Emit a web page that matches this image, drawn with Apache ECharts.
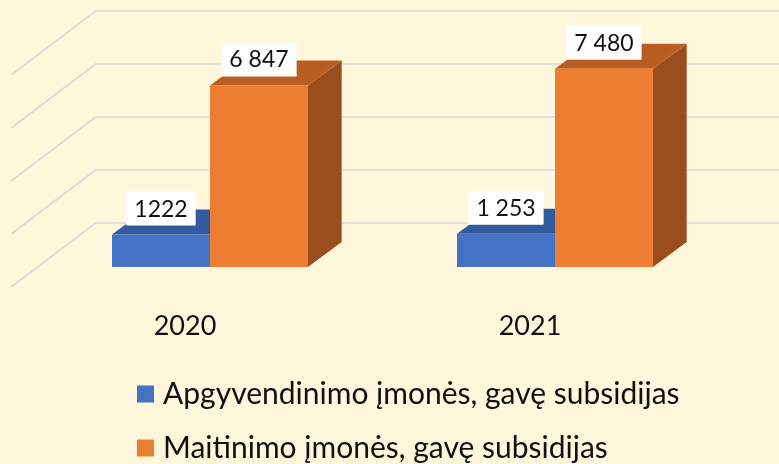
<!DOCTYPE html>
<html>
<head>
<meta charset="utf-8">
<script src="https://cdn.jsdelivr.net/npm/echarts@6/dist/echarts.min.js"></script>
<style>html,body{margin:0;padding:0;background:#FFF7DB;}#chart{width:779px;height:464px;}</style>
</head>
<body>
<div id="chart"></div>
<script>
const categories = ['2020', '2021'];
const seriesNames = ['Apgyvendinimo įmonės, gavę subsidijas', 'Maitinimo įmonės, gavę subsidijas'];
const accommodation = [1222, 1253];
const catering = [6847, 7480];
const accommodationLabels = ['1222', '1 253'];
const cateringLabels = ['6 847', '7 480'];
const yTicks = [0, 2000, 4000, 6000, 8000];

const FONT = 'Lato';
const K = 1.32;          // depth slope (dx per dy)
const BAR_DX = 33.7, BAR_DY = -25;

const chart = echarts.init(document.getElementById('chart'));

function wallItem(params, api) {
  const v = api.value(1);
  const p = api.coord([0, v]);
  const cs = params.coordSys;
  const x0 = cs.x;
  const y = p[1];
  return {
    type: 'polyline',
    shape: { points: [[x0 - 20 * K, y + 20], [x0 + 44 * K, y - 44], [800, y - 44]] },
    style: { stroke: '#D9D9D9', lineWidth: 1.6, fill: null }
  };
}

function makeBarRender(side, colors, labels) {
  return function (params, api) {
    const idx = api.value(0);
    const val = api.value(1);
    const base = api.coord([idx, 0]);
    const top = api.coord([idx, val]);
    const band = api.size([1, 0])[0];
    const w = band * 0.284;
    const xL = side === 0 ? base[0] - w : base[0];
    const yT = top[1], yB = base[1];
    return {
      type: 'group',
      children: [
        { type: 'polygon', shape: { points: [[xL + w, yT], [xL + w + BAR_DX, yT + BAR_DY], [xL + w + BAR_DX, yB + BAR_DY], [xL + w, yB]] }, style: { fill: colors[2] } },
        { type: 'polygon', shape: { points: [[xL, yT], [xL + w, yT], [xL + w + BAR_DX, yT + BAR_DY], [xL + BAR_DX, yT + BAR_DY]] }, style: { fill: colors[1] } },
        { type: 'rect', shape: { x: xL, y: yT, width: w, height: yB - yT }, style: { fill: colors[0] } },
        { type: 'text', z2: 100, style: { text: labels[idx], x: xL + w / 2, y: yT - 9, align: 'center', verticalAlign: 'bottom', font: '23px ' + FONT, fill: '#111', backgroundColor: '#FFFFFF', padding: [6, 8, 5, 8] } }
      ]
    };
  };
}

const legendCommon = {
  orient: 'vertical', left: 137, padding: 0,
  itemWidth: 17, itemHeight: 17,
  icon: 'rect',
  textStyle: { fontFamily: FONT, fontSize: 30, color: '#111', padding: [0, 0, 0, 4] }
};

const option = {
  backgroundColor: '#FFF7DB',
  animation: false,
  grid: { left: 37.5, right: 51.5, top: 55, bottom: 197, containLabel: false },
  xAxis: {
    type: 'category',
    data: categories,
    axisLine: { show: false },
    axisTick: { show: false },
    axisLabel: { fontFamily: FONT, fontSize: 27, color: '#111', margin: 46, padding: [0, 50, 0, 0] }
  },
  yAxis: {
    type: 'value', min: 0, max: 8000, interval: 2000,
    show: false
  },
  legend: [
    Object.assign({}, legendCommon, { top: 379, data: [seriesNames[0]] }),
    Object.assign({}, legendCommon, { top: 433, data: [seriesNames[1]] })
  ],
  series: [
    {
      type: 'custom', name: 'walls', silent: true, z: 1,
      data: yTicks.map(v => [0, v]),
      renderItem: wallItem
    },
    {
      type: 'custom', name: seriesNames[0], z: 2,
      itemStyle: { color: '#4472C4' },
      data: accommodation.map((v, i) => [i, v]),
      renderItem: makeBarRender(0, ['#4472C4', '#345A9E', '#2B4B85'], accommodationLabels)
    },
    {
      type: 'custom', name: seriesNames[1], z: 3,
      itemStyle: { color: '#ED7D31' },
      data: catering.map((v, i) => [i, v]),
      renderItem: makeBarRender(1, ['#ED7D31', '#B85E22', '#9A4E1D'], cateringLabels)
    }
  ]
};
chart.setOption(option);
</script>
</body>
</html>
